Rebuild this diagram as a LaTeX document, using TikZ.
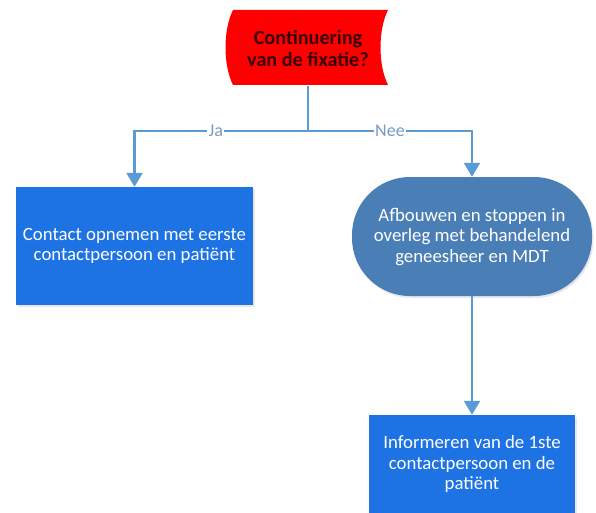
\documentclass[tikz,border=0pt]{standalone}
\usepackage{fontspec}
\setmainfont{Carlito}
\usetikzlibrary{arrows.meta,shadows}
\definecolor{boxblue}{RGB}{30,115,228}
\definecolor{stadblue}{RGB}{74,126,183}
\definecolor{linkblue}{RGB}{91,155,213}
\definecolor{labelblue}{RGB}{120,155,195}
\definecolor{darkred}{RGB}{55,0,0}
\tikzset{
  procbox/.style={rectangle, fill=boxblue, text=white, align=center,
    font=\fontsize{18.8}{20.5}\selectfont, inner sep=0pt,
    drop shadow={opacity=0.18, shadow xshift=1.5pt, shadow yshift=-2pt}},
  stadium/.style={rectangle, rounded corners=58pt, fill=stadblue, text=white, align=center,
    font=\fontsize{18.8}{20.5}\selectfont, inner sep=0pt,
    drop shadow={opacity=0.18, shadow xshift=1.5pt, shadow yshift=-2pt}},
  link/.style={draw=linkblue, line width=2.3pt},
  arrowlink/.style={link, -{Triangle[width=16pt,length=14pt]}},
  lbl/.style={fill=white, text=labelblue, inner sep=1.5pt, font=\fontsize{18}{20}\selectfont}
}
\begin{document}
\begin{tikzpicture}[x=1pt,y=-1pt]
\useasboundingbox (0,0) rectangle (596,513);
% stored-data style decision shape
\fill[red] (233,10) -- (388,10) .. controls (378,30) and (378,65) .. (388,85)
  -- (233,85) .. controls (223,65) and (223,30) .. (233,10);
\node[rectangle, minimum width=155pt, minimum height=75pt, inner sep=0pt,
  text=darkred, align=center, font=\fontsize{20.2}{22}\selectfont\bfseries]
  (q) at (308,48) {Continuering\\van de fixatie?};
\coordinate (j) at (308,131);
\node[procbox, minimum width=237pt, minimum height=118pt] (a) at (134.5,246) {Contact opnemen met eerste\\contactpersoon en patiënt};
\node[stadium, minimum width=240pt, minimum height=119pt] (b) at (472,236.5) {Afbouwen en stoppen in\\overleg met behandelend\\geneesheer en MDT};
\node[procbox, minimum width=206pt, minimum height=98pt] (c) at (472,464) {Informeren van de 1ste\\contactpersoon en de\\patiënt};
\draw[link] (q.south) -- (j);
\draw[arrowlink] (j) -| node[lbl, pos=0.266] {Ja} (a.north);
\draw[arrowlink] (j) -| node[lbl, pos=0.25] {Nee} (b.north);
\draw[arrowlink] (b.south) -- (c.north);
\end{tikzpicture}
\end{document}
